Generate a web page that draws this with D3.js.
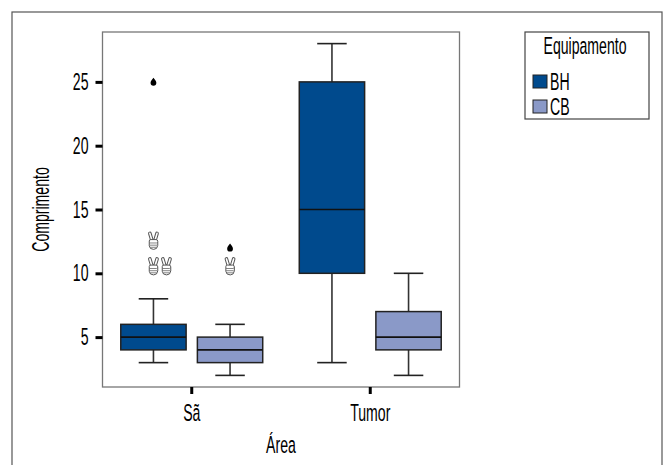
<!DOCTYPE html>
<html>
<head>
<meta charset="utf-8">
<script src="https://cdn.jsdelivr.net/npm/d3@7"></script>
<style>
  html, body { margin: 0; padding: 0; background: #fff; }
  svg { display: block; }
  text { font-family: "Liberation Sans", Arial, sans-serif; fill: #000; }
</style>
</head>
<body>
<svg id="chart" width="665" height="465"></svg>
<script>
// ---- data ----
const areas = ["Sã", "Tumor"];
const groups = ["BH", "CB"];
const yTicks = [5, 10, 15, 20, 25];
// box statistics per group, one value per area
const whiskerLow  = { BH: [3, 3],  CB: [2, 2] };
const q1          = { BH: [4, 10], CB: [3, 4] };
const median      = { BH: [5, 15], CB: [4, 5] };
const q3          = { BH: [6, 25], CB: [5, 7] };
const whiskerHigh = { BH: [8, 28], CB: [6, 10] };
// outliers: [area, group, value, kind, slot]
const outliers = [
  ["Sã", "BH", 25, "extreme", 0],
  ["Sã", "BH", 12, "mild", 0],
  ["Sã", "BH", 10, "mild", 0],
  ["Sã", "BH", 10, "mild", 1],
  ["Sã", "CB", 12, "extreme", 0],
  ["Sã", "CB", 10, "mild", 0]
];
const colors = { BH: "#004A8D", CB: "#8A99C8" };

// ---- layout ----
const svg = d3.select("#chart");
const L = 102.5, T = 32, R = 459.5, B = 387;
const SX = 0.6, FS = 23.5;

function condense(sel, s) {
  sel.each(function () {
    const t = d3.select(this);
    const x = +t.attr("x") || 0, y = +t.attr("y") || 0;
    t.attr("x", 0).attr("y", 0).attr("transform", `translate(${x},${y}) scale(${s},1)`);
  });
}

// outer frame
svg.append("rect").attr("x", 12).attr("y", 12).attr("width", 650).attr("height", 470)
  .attr("fill", "none").attr("stroke", "#555").attr("stroke-width", 1.2);

const y = d3.scaleLinear().domain([1.09, 28.91]).range([B, T]);
const x = d3.scaleBand().domain(areas).range([L, R]).paddingInner(0).paddingOuter(0);
const xs = d3.scaleBand().domain(groups).range([-76.6, 76.6]);
const boxW = xs.bandwidth() * 0.853;
const capW = 29.5;

// plot border
svg.append("rect").attr("x", L).attr("y", T).attr("width", R - L).attr("height", B - T)
  .attr("fill", "none").attr("stroke", "#777").attr("stroke-width", 1.3);

// axes
const gy = svg.append("g").attr("transform", `translate(${L},0)`)
  .call(d3.axisLeft(y).tickValues(yTicks).tickSize(7).tickPadding(7));
gy.select(".domain").remove();
gy.selectAll(".tick line").attr("stroke", "#000").attr("stroke-width", 3);
gy.selectAll(".tick text").attr("font-size", FS).call(condense, SX);
gy.attr("font-family", null);

const gx = svg.append("g").attr("transform", `translate(0,${B})`)
  .call(d3.axisBottom(x).tickSize(7).tickPadding(10));
gx.select(".domain").remove();
gx.selectAll(".tick line").attr("stroke", "#000").attr("stroke-width", 3);
gx.selectAll(".tick text").attr("font-size", FS).call(condense, SX);
gx.attr("font-family", null);

// boxes
groups.forEach(g => {
  areas.forEach((a, i) => {
    const cx = x(a) + x.bandwidth() / 2 + xs(g) + xs.bandwidth() / 2;
    const grp = svg.append("g");
    grp.append("line").attr("x1", cx).attr("x2", cx).attr("y1", y(q3[g][i])).attr("y2", y(whiskerHigh[g][i]))
      .attr("stroke", "#333").attr("stroke-width", 1.6);
    grp.append("line").attr("x1", cx).attr("x2", cx).attr("y1", y(q1[g][i])).attr("y2", y(whiskerLow[g][i]))
      .attr("stroke", "#333").attr("stroke-width", 1.6);
    grp.append("line").attr("x1", cx - capW / 2).attr("x2", cx + capW / 2)
      .attr("y1", y(whiskerHigh[g][i])).attr("y2", y(whiskerHigh[g][i]))
      .attr("stroke", "#222").attr("stroke-width", 1.6);
    grp.append("line").attr("x1", cx - capW / 2).attr("x2", cx + capW / 2)
      .attr("y1", y(whiskerLow[g][i])).attr("y2", y(whiskerLow[g][i]))
      .attr("stroke", "#222").attr("stroke-width", 1.6);
    grp.append("rect").attr("x", cx - boxW / 2).attr("width", boxW)
      .attr("y", y(q3[g][i])).attr("height", y(q1[g][i]) - y(q3[g][i]))
      .attr("fill", colors[g]).attr("stroke", "#222").attr("stroke-width", 1.5);
    grp.append("line").attr("x1", cx - boxW / 2).attr("x2", cx + boxW / 2)
      .attr("y1", y(median[g][i])).attr("y2", y(median[g][i]))
      .attr("stroke", "#111").attr("stroke-width", 1.6);
  });
});

// outliers
const drop = "M0,-4.2 C1.2,-2.4 2.9,-1 2.9,0.9 A2.9,2.9 0 0 1 -2.9,0.9 C-2.9,-1 -1.2,-2.4 0,-4.2Z";
const fingers = "M-3.6,-7.4 L-1.4,0 M3.6,-7.4 L1.4,0";
const palm = "M-4.2,0.2 Q-4.2,-1.4 -2.4,-1.2 L2.6,-1.2 Q4.3,-1.2 4.3,0.6 L4.3,4.6 Q3.9,8.6 0.2,8.6 Q-3.9,8.6 -4.2,5 Z";
const curls = "M-4,2.2 L3,2.2 M-3.9,4.4 L3.6,4.4 M-3.2,6.5 L3.1,6.5 M3,2.2 L4.3,1.4";
outliers.forEach(([a, g, v, kind, slot]) => {
  const cx = x(a) + x.bandwidth() / 2 + xs(g) + xs.bandwidth() / 2 + slot * 13;
  if (kind === "extreme") {
    svg.append("path").attr("d", drop).attr("transform", `translate(${cx},${y(v)})`).attr("fill", "#000");
  } else {
    const hg = svg.append("g").attr("transform", `translate(${cx},${y(v) - 7})`);
    hg.append("path").attr("d", fingers).attr("stroke", "#555").attr("stroke-width", 3.6)
      .attr("stroke-linecap", "round").attr("fill", "none");
    hg.append("path").attr("d", fingers).attr("stroke", "#fff").attr("stroke-width", 1.6)
      .attr("stroke-linecap", "round").attr("fill", "none");
    hg.append("path").attr("d", palm).attr("fill", "#fff").attr("stroke", "#555").attr("stroke-width", 1);
    hg.append("path").attr("d", curls).attr("fill", "none").attr("stroke", "#666").attr("stroke-width", 0.8);
  }
});

// axis titles
svg.append("text").attr("x", (L + R) / 2).attr("y", 453).attr("text-anchor", "middle")
  .attr("font-size", FS).text("Área").call(condense, SX);
svg.append("text").attr("text-anchor", "middle").attr("font-size", FS)
  .attr("transform", `translate(49,${(T + B) / 2}) rotate(-90) scale(${SX},1)`).text("Comprimento");

// legend
const lg = svg.append("g");
lg.append("rect").attr("x", 525).attr("y", 32).attr("width", 124).attr("height", 87)
  .attr("fill", "#fff").attr("stroke", "#444").attr("stroke-width", 1.2);
lg.append("text").attr("x", 585).attr("y", 54).attr("text-anchor", "middle").attr("font-size", FS)
  .text("Equipamento").call(condense, SX);
groups.forEach((g, i) => {
  lg.append("rect").attr("x", 533).attr("y", 75 + i * 25).attr("width", 14).attr("height", 13)
    .attr("fill", colors[g]).attr("stroke", "#222").attr("stroke-width", 1);
  lg.append("text").attr("x", 550).attr("y", 89.5 + i * 25).attr("font-size", FS)
    .text(g).call(condense, SX);
});
</script>
</body>
</html>
